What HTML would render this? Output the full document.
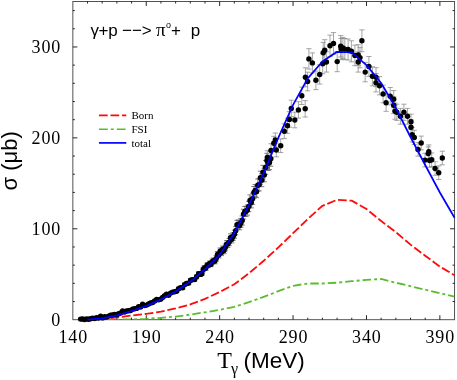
<!DOCTYPE html>
<html><head><meta charset="utf-8"><title>plot</title>
<style>
html,body{margin:0;padding:0;background:#fff;}
svg{display:block}
.ser{font-family:"Liberation Serif",serif}
.san{font-family:"Liberation Sans",sans-serif}
</style></head><body>
<svg style="will-change:transform" width="457" height="380" viewBox="0 0 457 380">
<rect width="457" height="380" fill="#fff"/>
<g fill="none">
<rect x="72.85" y="1.5" width="381.70" height="318.20" stroke="#4a4a4a" stroke-width="0.95"/>
<path d="M87.53,319.70v-2.0M87.53,1.50v2.0M102.21,319.70v-2.0M102.21,1.50v2.0M116.89,319.70v-2.0M116.89,1.50v2.0M131.57,319.70v-2.0M131.57,1.50v2.0M146.25,319.70v-4.5M146.25,1.50v4.5M160.93,319.70v-2.0M160.93,1.50v2.0M175.62,319.70v-2.0M175.62,1.50v2.0M190.30,319.70v-2.0M190.30,1.50v2.0M204.98,319.70v-2.0M204.98,1.50v2.0M219.66,319.70v-4.5M219.66,1.50v4.5M234.34,319.70v-2.0M234.34,1.50v2.0M249.02,319.70v-2.0M249.02,1.50v2.0M263.70,319.70v-2.0M263.70,1.50v2.0M278.38,319.70v-2.0M278.38,1.50v2.0M293.06,319.70v-4.5M293.06,1.50v4.5M307.74,319.70v-2.0M307.74,1.50v2.0M322.42,319.70v-2.0M322.42,1.50v2.0M337.10,319.70v-2.0M337.10,1.50v2.0M351.78,319.70v-2.0M351.78,1.50v2.0M366.47,319.70v-4.5M366.47,1.50v4.5M381.15,319.70v-2.0M381.15,1.50v2.0M395.83,319.70v-2.0M395.83,1.50v2.0M410.51,319.70v-2.0M410.51,1.50v2.0M425.19,319.70v-2.0M425.19,1.50v2.0M439.87,319.70v-4.5M439.87,1.50v4.5M72.85,301.52h2.0M454.55,301.52h-2.0M72.85,283.33h2.0M454.55,283.33h-2.0M72.85,265.15h2.0M454.55,265.15h-2.0M72.85,246.97h2.0M454.55,246.97h-2.0M72.85,228.79h4.5M454.55,228.79h-4.5M72.85,210.60h2.0M454.55,210.60h-2.0M72.85,192.42h2.0M454.55,192.42h-2.0M72.85,174.24h2.0M454.55,174.24h-2.0M72.85,156.05h2.0M454.55,156.05h-2.0M72.85,137.87h4.5M454.55,137.87h-4.5M72.85,119.69h2.0M454.55,119.69h-2.0M72.85,101.51h2.0M454.55,101.51h-2.0M72.85,83.32h2.0M454.55,83.32h-2.0M72.85,65.14h2.0M454.55,65.14h-2.0M72.85,46.96h4.5M454.55,46.96h-4.5M72.85,28.77h2.0M454.55,28.77h-2.0M72.85,10.59h2.0M454.55,10.59h-2.0" stroke="#000" stroke-width="0.85"/>
</g>
<g id="txt">
<g class="ser" font-size="18" letter-spacing="0.9" fill="#000"><text x="73.3" y="342.7" text-anchor="middle">140</text><text x="146.7" y="342.7" text-anchor="middle">190</text><text x="220.1" y="342.7" text-anchor="middle">240</text><text x="293.5" y="342.7" text-anchor="middle">290</text><text x="366.9" y="342.7" text-anchor="middle">340</text><text x="440.3" y="342.7" text-anchor="middle">390</text><text x="61.2" y="325.7" text-anchor="end">0</text><text x="61.2" y="234.8" text-anchor="end">100</text><text x="61.2" y="143.9" text-anchor="end">200</text><text x="61.2" y="53.0" text-anchor="end">300</text></g>
<clipPath id="c"><rect x="72.85" y="1.5" width="381.70000000000005" height="318.2"/></clipPath>
<g clip-path="url(#c)">
<path d="M87.53,319.70 L102.21,319.70 L116.89,319.60 L131.57,319.40 L146.25,318.80 L160.93,317.80 L175.62,316.60 L190.30,314.60 L204.98,312.30 L219.66,309.80 L234.34,306.80 L249.02,302.20 L263.70,296.80 L278.38,291.20 L293.06,285.80 L307.74,283.50 L322.42,283.50 L337.10,282.70 L351.78,281.20 L366.47,279.90 L381.15,279.00 L395.83,282.70 L410.51,286.20 L425.19,289.70 L439.87,293.20 L454.55,296.60" fill="none" stroke="#5bbd2b" stroke-width="1.8" stroke-dasharray="8.5 3 3 3"/>
<path d="M87.53,319.60 L102.21,319.00 L116.89,317.40 L131.57,315.60 L146.25,313.80 L160.93,311.70 L175.62,308.40 L190.30,304.40 L204.98,298.90 L219.66,292.00 L234.34,284.30 L249.02,273.20 L263.70,260.80 L278.38,247.40 L293.06,233.20 L307.74,219.00 L322.42,205.80 L337.10,199.80 L351.78,200.70 L366.47,209.00 L381.15,221.00 L395.83,232.20 L410.51,244.60 L425.19,255.70 L439.87,266.60 L454.55,275.20" fill="none" stroke="#ff0a0a" stroke-width="1.8" stroke-dasharray="8.7 2.8"/>
</g>
<path d="M154.6,300.2V301.9M152.0,300.2h5.2M152.0,301.9h5.2M156.6,298.6V300.4M154.0,298.6h5.2M154.0,300.4h5.2M158.6,298.8V300.6M156.0,298.8h5.2M156.0,300.6h5.2M160.6,298.3V300.2M158.0,298.3h5.2M158.0,300.2h5.2M162.6,296.4V298.5M160.0,296.4h5.2M160.0,298.5h5.2M164.6,294.6V296.8M162.0,294.6h5.2M162.0,296.8h5.2M166.6,293.0V295.3M164.0,293.0h5.2M164.0,295.3h5.2M168.6,294.1V296.3M166.0,294.1h5.2M166.0,296.3h5.2M170.6,291.9V294.4M168.0,291.9h5.2M168.0,294.4h5.2M172.6,290.8V293.4M170.0,290.8h5.2M170.0,293.4h5.2M174.6,290.5V293.0M172.0,290.5h5.2M172.0,293.0h5.2M176.6,289.9V292.5M174.0,289.9h5.2M174.0,292.5h5.2M178.6,287.3V290.2M176.0,287.3h5.2M176.0,290.2h5.2M180.6,286.2V289.1M178.0,286.2h5.2M178.0,289.1h5.2M182.6,286.3V289.3M180.0,286.3h5.2M180.0,289.3h5.2M184.6,283.0V286.2M182.0,283.0h5.2M182.0,286.2h5.2M186.6,281.8V285.2M184.0,281.8h5.2M184.0,285.2h5.2M188.6,281.4V284.8M186.0,281.4h5.2M186.0,284.8h5.2M190.6,278.5V282.1M188.0,278.5h5.2M188.0,282.1h5.2M192.6,277.8V281.5M190.0,277.8h5.2M190.0,281.5h5.2M194.6,277.8V281.5M192.0,277.8h5.2M192.0,281.5h5.2M196.6,274.9V278.8M194.0,274.9h5.2M194.0,278.8h5.2M198.6,271.7V275.9M196.0,271.7h5.2M196.0,275.9h5.2M200.6,272.3V276.5M198.0,272.3h5.2M198.0,276.5h5.2M201.9,271.3V275.5M199.3,271.3h5.2M199.3,275.5h5.2M203.2,267.2V271.8M200.6,267.2h5.2M200.6,271.8h5.2M204.5,265.5V270.3M201.9,265.5h5.2M201.9,270.3h5.2M205.8,265.6V270.4M203.2,265.6h5.2M203.2,270.4h5.2M207.1,262.8V267.8M204.5,262.8h5.2M204.5,267.8h5.2M208.4,262.6V267.6M205.8,262.6h5.2M205.8,267.6h5.2M209.7,261.0V266.1M207.1,261.0h5.2M207.1,266.1h5.2M211.0,261.6V266.7M208.4,261.6h5.2M208.4,266.7h5.2M212.3,259.0V264.3M209.7,259.0h5.2M209.7,264.3h5.2M213.6,258.0V263.4M211.0,258.0h5.2M211.0,263.4h5.2M214.9,258.4V263.8M212.3,258.4h5.2M212.3,263.8h5.2M216.2,255.6V261.2M213.6,255.6h5.2M213.6,261.2h5.2M217.5,251.5V257.5M214.9,251.5h5.2M214.9,257.5h5.2M218.8,252.0V258.0M216.2,252.0h5.2M216.2,258.0h5.2M220.1,248.0V254.3M217.5,248.0h5.2M217.5,254.3h5.2M221.4,249.4V255.6M218.8,249.4h5.2M218.8,255.6h5.2M222.7,246.0V252.5M220.1,246.0h5.2M220.1,252.5h5.2M224.0,247.3V253.7M221.4,247.3h5.2M221.4,253.7h5.2M225.3,244.1V250.8M222.7,244.1h5.2M222.7,250.8h5.2M226.6,240.7V247.6M224.0,240.7h5.2M224.0,247.6h5.2M227.9,240.5V247.4M225.3,240.5h5.2M225.3,247.4h5.2M229.2,238.5V245.6M226.6,238.5h5.2M226.6,245.6h5.2M230.5,233.9V241.5M227.9,233.9h5.2M227.9,241.5h5.2M231.8,235.5V242.9M229.2,235.5h5.2M229.2,242.9h5.2M233.1,232.7V240.3M230.5,232.7h5.2M230.5,240.3h5.2M234.4,230.3V238.2M231.8,230.3h5.2M231.8,238.2h5.2M235.7,226.6V234.8M233.1,226.6h5.2M233.1,234.8h5.2M237.0,220.3V229.1M234.4,220.3h5.2M234.4,229.1h5.2M238.3,220.0V228.8M235.7,220.0h5.2M235.7,228.8h5.2M239.6,221.1V229.8M237.0,221.1h5.2M237.0,229.8h5.2M240.9,218.4V227.3M238.3,218.4h5.2M238.3,227.3h5.2M242.2,215.9V225.1M239.6,215.9h5.2M239.6,225.1h5.2M243.5,209.2V219.0M240.9,209.2h5.2M240.9,219.0h5.2M244.8,206.5V216.4M242.2,206.5h5.2M242.2,216.4h5.2M246.1,206.3V216.3M243.5,206.3h5.2M243.5,216.3h5.2M247.4,205.0V215.1M244.8,205.0h5.2M244.8,215.1h5.2M248.7,201.3V211.7M246.1,201.3h5.2M246.1,211.7h5.2M250.0,194.9V205.9M247.4,194.9h5.2M247.4,205.9h5.2M251.3,197.1V207.9M248.7,197.1h5.2M248.7,207.9h5.2M252.6,193.2V204.3M250.0,193.2h5.2M250.0,204.3h5.2M253.9,186.5V198.2M251.3,186.5h5.2M251.3,198.2h5.2M255.2,184.5V196.4M252.6,184.5h5.2M252.6,196.4h5.2M256.5,185.9V197.7M253.9,185.9h5.2M253.9,197.7h5.2M257.8,179.1V191.4M255.2,179.1h5.2M255.2,191.4h5.2M259.1,178.4V190.8M256.5,178.4h5.2M256.5,190.8h5.2M260.4,171.2V184.2M257.8,171.2h5.2M257.8,184.2h5.2M261.7,173.8V186.7M259.1,173.8h5.2M259.1,186.7h5.2M263.0,165.3V178.9M260.4,165.3h5.2M260.4,178.9h5.2M264.3,168.4V181.8M261.7,168.4h5.2M261.7,181.8h5.2M265.6,160.4V174.4M263.0,160.4h5.2M263.0,174.4h5.2M266.9,153.3V167.9M264.3,153.3h5.2M264.3,167.9h5.2M268.2,156.1V170.5M265.6,156.1h5.2M265.6,170.5h5.2M269.5,155.1V169.6M266.9,155.1h5.2M266.9,169.6h5.2M270.8,151.4V166.2M268.2,151.4h5.2M268.2,166.2h5.2" fill="none" stroke="#555" stroke-width="0.75"/>
<path d="M267.3,150.7V164.3M264.7,150.7h5.2M264.7,164.3h5.2M271.0,143.7V157.3M268.4,143.7h5.2M268.4,157.3h5.2M276.3,143.2V156.8M273.7,143.2h5.2M273.7,156.8h5.2M273.8,136.3V150.1M271.2,136.3h5.2M271.2,150.1h5.2M275.3,133.0V147.0M272.7,133.0h5.2M272.7,147.0h5.2M280.7,138.9V152.5M278.1,138.9h5.2M278.1,152.5h5.2M284.3,123.8V138.6M281.7,123.8h5.2M281.7,138.6h5.2M287.5,118.1V133.3M284.9,118.1h5.2M284.9,133.3h5.2M289.4,111.6V127.2M286.8,111.6h5.2M286.8,127.2h5.2M294.8,112.2V127.8M292.2,112.2h5.2M292.2,127.8h5.2M291.3,100.2V116.6M288.7,100.2h5.2M288.7,116.6h5.2M298.4,101.7V118.1M295.8,101.7h5.2M295.8,118.1h5.2M305.2,100.6V117.0M302.6,100.6h5.2M302.6,117.0h5.2M301.8,87.1V104.5M299.2,87.1h5.2M299.2,104.5h5.2M305.4,67.8V86.8M302.8,67.8h5.2M302.8,86.8h5.2M307.6,72.2V90.8M305.0,72.2h5.2M305.0,90.8h5.2M308.9,48.7V69.1M306.3,48.7h5.2M306.3,69.1h5.2M312.4,52.9V72.9M309.8,52.9h5.2M309.8,72.9h5.2M315.9,71.0V89.6M313.3,71.0h5.2M313.3,89.6h5.2M319.7,64.9V84.1M317.1,64.9h5.2M317.1,84.1h5.2M322.7,53.8V73.8M320.1,53.8h5.2M320.1,73.8h5.2M323.2,42.4V63.2M320.6,42.4h5.2M320.6,63.2h5.2M324.7,39.7V60.7M322.1,39.7h5.2M322.1,60.7h5.2M326.4,51.9V72.1M323.8,51.9h5.2M323.8,72.1h5.2M330.0,35.1V56.5M327.4,35.1h5.2M327.4,56.5h5.2M333.5,32.6V54.2M330.9,32.6h5.2M330.9,54.2h5.2M337.2,51.5V71.7M334.6,51.5h5.2M334.6,71.7h5.2M340.7,35.6V57.0M338.1,35.6h5.2M338.1,57.0h5.2M341.1,38.5V59.7M338.5,38.5h5.2M338.5,59.7h5.2M342.9,37.4V58.6M340.3,37.4h5.2M340.3,58.6h5.2M344.8,38.5V59.7M342.2,38.5h5.2M342.2,59.7h5.2M348.1,39.0V60.0M345.5,39.0h5.2M345.5,60.0h5.2M351.4,40.8V61.8M348.8,40.8h5.2M348.8,61.8h5.2M354.9,45.1V65.7M352.3,45.1h5.2M352.3,65.7h5.2M358.2,44.7V65.3M355.6,44.7h5.2M355.6,65.3h5.2M358.2,51.9V72.1M355.6,51.9h5.2M355.6,72.1h5.2M360.0,47.4V67.8M357.4,47.4h5.2M357.4,67.8h5.2M361.9,29.9V51.7M359.3,29.9h5.2M359.3,51.7h5.2M365.2,62.4V81.8M362.6,62.4h5.2M362.6,81.8h5.2M368.9,56.5V76.3M366.3,56.5h5.2M366.3,76.3h5.2M372.4,66.8V85.8M369.8,66.8h5.2M369.8,85.8h5.2M376.0,67.7V86.7M373.4,67.7h5.2M373.4,86.7h5.2M376.0,73.5V91.9M373.4,73.5h5.2M373.4,91.9h5.2M379.5,76.6V94.8M376.9,76.6h5.2M376.9,94.8h5.2M383.1,85.2V102.8M380.5,85.2h5.2M380.5,102.8h5.2M386.1,94.3V111.3M383.5,94.3h5.2M383.5,111.3h5.2M390.2,87.5V104.9M387.6,87.5h5.2M387.6,104.9h5.2M393.7,90.6V107.8M391.1,90.6h5.2M391.1,107.8h5.2M393.7,96.8V113.6M391.1,96.8h5.2M391.1,113.6h5.2M394.9,103.0V119.2M392.3,103.0h5.2M392.3,119.2h5.2M396.8,104.2V120.4M394.2,104.2h5.2M394.2,120.4h5.2M400.4,108.4V124.2M397.8,108.4h5.2M397.8,124.2h5.2M403.9,104.2V120.4M401.3,104.2h5.2M401.3,120.4h5.2M407.5,108.4V124.2M404.9,108.4h5.2M404.9,124.2h5.2M411.0,114.1V129.5M408.4,114.1h5.2M408.4,129.5h5.2M411.0,119.7V134.7M408.4,119.7h5.2M408.4,134.7h5.2M412.2,127.6V142.0M409.6,127.6h5.2M409.6,142.0h5.2M414.3,130.3V144.5M411.7,130.3h5.2M411.7,144.5h5.2M418.0,142.6V156.2M415.4,142.6h5.2M415.4,156.2h5.2M421.2,136.1V149.9M418.6,136.1h5.2M418.6,149.9h5.2M425.0,153.3V166.9M422.4,153.3h5.2M422.4,166.9h5.2M428.2,146.8V160.4M425.6,146.8h5.2M425.6,160.4h5.2M428.8,144.9V158.5M426.2,144.9h5.2M426.2,158.5h5.2M429.6,153.7V167.3M427.0,153.7h5.2M427.0,167.3h5.2M431.7,152.9V166.5M429.1,152.9h5.2M429.1,166.5h5.2M435.1,161.7V175.3M432.5,161.7h5.2M432.5,175.3h5.2M438.7,165.9V179.5M436.1,165.9h5.2M436.1,179.5h5.2M442.3,151.2V164.8M439.7,151.2h5.2M439.7,164.8h5.2" fill="none" stroke="#808080" stroke-width="0.7"/>
<g fill="#000"><circle cx="80.6" cy="319.1" r="2.7"/><circle cx="82.6" cy="319.0" r="2.7"/><circle cx="84.6" cy="319.5" r="2.7"/><circle cx="86.6" cy="318.9" r="2.7"/><circle cx="88.6" cy="319.2" r="2.7"/><circle cx="90.6" cy="318.8" r="2.7"/><circle cx="92.6" cy="318.3" r="2.7"/><circle cx="94.6" cy="318.5" r="2.7"/><circle cx="96.6" cy="317.8" r="2.7"/><circle cx="98.6" cy="318.0" r="2.7"/><circle cx="100.6" cy="316.1" r="2.7"/><circle cx="102.6" cy="317.9" r="2.7"/><circle cx="104.6" cy="316.8" r="2.7"/><circle cx="106.6" cy="317.1" r="2.7"/><circle cx="108.6" cy="316.1" r="2.7"/><circle cx="110.6" cy="315.2" r="2.7"/><circle cx="112.6" cy="315.0" r="2.7"/><circle cx="114.6" cy="314.4" r="2.7"/><circle cx="116.6" cy="314.7" r="2.7"/><circle cx="118.6" cy="313.8" r="2.7"/><circle cx="120.6" cy="313.0" r="2.7"/><circle cx="122.6" cy="310.9" r="2.7"/><circle cx="124.6" cy="312.1" r="2.7"/><circle cx="126.6" cy="311.0" r="2.7"/><circle cx="128.6" cy="310.7" r="2.7"/><circle cx="130.6" cy="310.5" r="2.7"/><circle cx="132.6" cy="309.1" r="2.7"/><circle cx="134.6" cy="308.8" r="2.7"/><circle cx="136.6" cy="308.4" r="2.7"/><circle cx="138.6" cy="306.8" r="2.7"/><circle cx="140.6" cy="307.0" r="2.7"/><circle cx="142.6" cy="304.3" r="2.7"/><circle cx="144.6" cy="305.6" r="2.7"/><circle cx="146.6" cy="305.1" r="2.7"/><circle cx="148.6" cy="303.9" r="2.7"/><circle cx="150.6" cy="302.9" r="2.7"/><circle cx="152.6" cy="302.5" r="2.7"/><circle cx="154.6" cy="301.0" r="2.7"/><circle cx="156.6" cy="299.5" r="2.7"/><circle cx="158.6" cy="299.7" r="2.7"/><circle cx="160.6" cy="299.2" r="2.7"/><circle cx="162.6" cy="297.5" r="2.7"/><circle cx="164.6" cy="295.7" r="2.7"/><circle cx="166.6" cy="294.1" r="2.7"/><circle cx="168.6" cy="295.2" r="2.7"/><circle cx="170.6" cy="293.1" r="2.7"/><circle cx="172.6" cy="292.1" r="2.7"/><circle cx="174.6" cy="291.8" r="2.7"/><circle cx="176.6" cy="291.2" r="2.7"/><circle cx="178.6" cy="288.7" r="2.7"/><circle cx="180.6" cy="287.6" r="2.7"/><circle cx="182.6" cy="287.8" r="2.7"/><circle cx="184.6" cy="284.6" r="2.7"/><circle cx="186.6" cy="283.5" r="2.7"/><circle cx="188.6" cy="283.1" r="2.7"/><circle cx="190.6" cy="280.3" r="2.7"/><circle cx="192.6" cy="279.6" r="2.7"/><circle cx="194.6" cy="279.6" r="2.7"/><circle cx="196.6" cy="276.8" r="2.7"/><circle cx="198.6" cy="273.8" r="2.7"/><circle cx="200.6" cy="274.4" r="2.7"/><circle cx="201.9" cy="273.4" r="2.7"/><circle cx="203.2" cy="269.5" r="2.7"/><circle cx="204.5" cy="267.9" r="2.7"/><circle cx="205.8" cy="268.0" r="2.7"/><circle cx="207.1" cy="265.3" r="2.7"/><circle cx="208.4" cy="265.1" r="2.7"/><circle cx="209.7" cy="263.5" r="2.7"/><circle cx="211.0" cy="264.2" r="2.7"/><circle cx="212.3" cy="261.6" r="2.7"/><circle cx="213.6" cy="260.7" r="2.7"/><circle cx="214.9" cy="261.1" r="2.7"/><circle cx="216.2" cy="258.4" r="2.7"/><circle cx="217.5" cy="254.5" r="2.7"/><circle cx="218.8" cy="255.0" r="2.7"/><circle cx="220.1" cy="251.1" r="2.7"/><circle cx="221.4" cy="252.5" r="2.7"/><circle cx="222.7" cy="249.2" r="2.7"/><circle cx="224.0" cy="250.5" r="2.7"/><circle cx="225.3" cy="247.4" r="2.7"/><circle cx="226.6" cy="244.2" r="2.7"/><circle cx="227.9" cy="243.9" r="2.7"/><circle cx="229.2" cy="242.1" r="2.7"/><circle cx="230.5" cy="237.7" r="2.7"/><circle cx="231.8" cy="239.2" r="2.7"/><circle cx="233.1" cy="236.5" r="2.7"/><circle cx="234.4" cy="234.2" r="2.7"/><circle cx="235.7" cy="230.7" r="2.7"/><circle cx="237.0" cy="224.7" r="2.7"/><circle cx="238.3" cy="224.4" r="2.7"/><circle cx="239.6" cy="225.4" r="2.7"/><circle cx="240.9" cy="222.9" r="2.7"/><circle cx="242.2" cy="220.5" r="2.7"/><circle cx="243.5" cy="214.1" r="2.7"/><circle cx="244.8" cy="211.4" r="2.7"/><circle cx="246.1" cy="211.3" r="2.7"/><circle cx="247.4" cy="210.0" r="2.7"/><circle cx="248.7" cy="206.5" r="2.7"/><circle cx="250.0" cy="200.4" r="2.7"/><circle cx="251.3" cy="202.5" r="2.7"/><circle cx="252.6" cy="198.7" r="2.7"/><circle cx="253.9" cy="192.4" r="2.7"/><circle cx="255.2" cy="190.5" r="2.7"/><circle cx="256.5" cy="191.8" r="2.7"/><circle cx="257.8" cy="185.2" r="2.7"/><circle cx="259.1" cy="184.6" r="2.7"/><circle cx="260.4" cy="177.7" r="2.7"/><circle cx="261.7" cy="180.3" r="2.7"/><circle cx="263.0" cy="172.1" r="2.7"/><circle cx="264.3" cy="175.1" r="2.7"/><circle cx="265.6" cy="167.4" r="2.7"/><circle cx="266.9" cy="160.6" r="2.7"/><circle cx="268.2" cy="163.3" r="2.7"/><circle cx="269.5" cy="162.4" r="2.7"/><circle cx="270.8" cy="158.8" r="2.7"/><circle cx="267.3" cy="157.5" r="2.7"/><circle cx="271.0" cy="150.5" r="2.7"/><circle cx="276.3" cy="150.0" r="2.7"/><circle cx="273.8" cy="143.2" r="2.7"/><circle cx="275.3" cy="140.0" r="2.7"/><circle cx="280.7" cy="145.7" r="2.7"/><circle cx="284.3" cy="131.2" r="2.7"/><circle cx="287.5" cy="125.7" r="2.7"/><circle cx="289.4" cy="119.4" r="2.7"/><circle cx="294.8" cy="120.0" r="2.7"/><circle cx="291.3" cy="108.4" r="2.7"/><circle cx="298.4" cy="109.9" r="2.7"/><circle cx="305.2" cy="108.8" r="2.7"/><circle cx="301.8" cy="95.8" r="2.7"/><circle cx="305.4" cy="77.3" r="2.7"/><circle cx="307.6" cy="81.5" r="2.7"/><circle cx="308.9" cy="58.9" r="2.7"/><circle cx="312.4" cy="62.9" r="2.7"/><circle cx="315.9" cy="80.3" r="2.7"/><circle cx="319.7" cy="74.5" r="2.7"/><circle cx="322.7" cy="63.8" r="2.7"/><circle cx="323.2" cy="52.8" r="2.7"/><circle cx="324.7" cy="50.2" r="2.7"/><circle cx="326.4" cy="62.0" r="2.7"/><circle cx="330.0" cy="45.8" r="2.7"/><circle cx="333.5" cy="43.4" r="2.7"/><circle cx="337.2" cy="61.6" r="2.7"/><circle cx="340.7" cy="46.3" r="2.7"/><circle cx="341.1" cy="49.1" r="2.7"/><circle cx="342.9" cy="48.0" r="2.7"/><circle cx="344.8" cy="49.1" r="2.7"/><circle cx="348.1" cy="49.5" r="2.7"/><circle cx="351.4" cy="51.3" r="2.7"/><circle cx="354.9" cy="55.4" r="2.7"/><circle cx="358.2" cy="55.0" r="2.7"/><circle cx="358.2" cy="62.0" r="2.7"/><circle cx="360.0" cy="57.6" r="2.7"/><circle cx="361.9" cy="40.8" r="2.7"/><circle cx="365.2" cy="72.1" r="2.7"/><circle cx="368.9" cy="66.4" r="2.7"/><circle cx="372.4" cy="76.3" r="2.7"/><circle cx="376.0" cy="77.2" r="2.7"/><circle cx="376.0" cy="82.7" r="2.7"/><circle cx="379.5" cy="85.7" r="2.7"/><circle cx="383.1" cy="94.0" r="2.7"/><circle cx="386.1" cy="102.8" r="2.7"/><circle cx="390.2" cy="96.2" r="2.7"/><circle cx="393.7" cy="99.2" r="2.7"/><circle cx="393.7" cy="105.2" r="2.7"/><circle cx="394.9" cy="111.1" r="2.7"/><circle cx="396.8" cy="112.3" r="2.7"/><circle cx="400.4" cy="116.3" r="2.7"/><circle cx="403.9" cy="112.3" r="2.7"/><circle cx="407.5" cy="116.3" r="2.7"/><circle cx="411.0" cy="121.8" r="2.7"/><circle cx="411.0" cy="127.2" r="2.7"/><circle cx="412.2" cy="134.8" r="2.7"/><circle cx="414.3" cy="137.4" r="2.7"/><circle cx="418.0" cy="149.4" r="2.7"/><circle cx="421.2" cy="143.0" r="2.7"/><circle cx="425.0" cy="160.1" r="2.7"/><circle cx="428.2" cy="153.6" r="2.7"/><circle cx="428.8" cy="151.7" r="2.7"/><circle cx="429.6" cy="160.5" r="2.7"/><circle cx="431.7" cy="159.7" r="2.7"/><circle cx="435.1" cy="168.5" r="2.7"/><circle cx="438.7" cy="172.7" r="2.7"/><circle cx="442.3" cy="158.0" r="2.7"/></g>
<path d="M87.53,319.70 L102.21,318.39 L116.89,315.37 L131.57,311.16 L146.25,305.94 L160.93,299.39 L175.62,291.46 L190.30,281.57 L204.98,269.35 L219.66,254.61 L234.34,232.99 L249.02,204.86 L263.70,173.13 L278.38,137.66 L293.06,104.93 L307.74,78.40 L322.42,61.50 L337.10,51.80 L351.78,52.40 L366.47,65.10 L381.15,83.00 L395.83,108.00 L410.51,137.00 L425.19,165.00 L439.87,192.50 L454.55,217.80" stroke-linejoin="round" fill="none" stroke="#0000ff" stroke-width="1.7"/>
<!-- legend -->
<path d="M99,115.4H126.3" stroke="#ff0a0a" stroke-width="1.6" stroke-dasharray="8.7 2.8"/>
<path d="M99,129.2H126.3" stroke="#5bbd2b" stroke-width="1.6" stroke-dasharray="8.8 3 3 3"/>
<path d="M99,142.9H126.3" stroke="#0000ff" stroke-width="1.7"/>
<g class="ser" font-size="11" fill="#000">
<text x="131.5" y="118.7">Born</text><text x="131.5" y="132.9">FSI</text><text x="131.5" y="146.9">total</text>
</g>
<!-- title -->
<g font-size="17" fill="#000">
<text class="san" x="90.6" y="35.6">γ</text>
<text class="san" x="98.4" y="35.6">+p</text>
<text class="san" x="122" y="35.6">−−&gt;</text>
<text class="ser" x="155.9" y="35.6" font-size="19">π</text>
<text class="san" x="166" y="27.5" font-size="9">o</text>
<text class="san" x="171" y="35.6">+</text>
<text class="san" x="190.7" y="35.6">p</text>
</g>
<!-- x label -->
<text class="ser" x="217.2" y="367.8" font-size="24">T</text>
<text class="ser" x="231" y="374" font-size="16">γ</text>
<text class="san" x="243.4" y="367.8" font-size="22.5">(MeV)</text>
<!-- y label -->
<text class="san" transform="translate(17.3,190.4) rotate(-90)" font-size="22">σ (μb)</text>
</g>
</svg>
</body></html>
